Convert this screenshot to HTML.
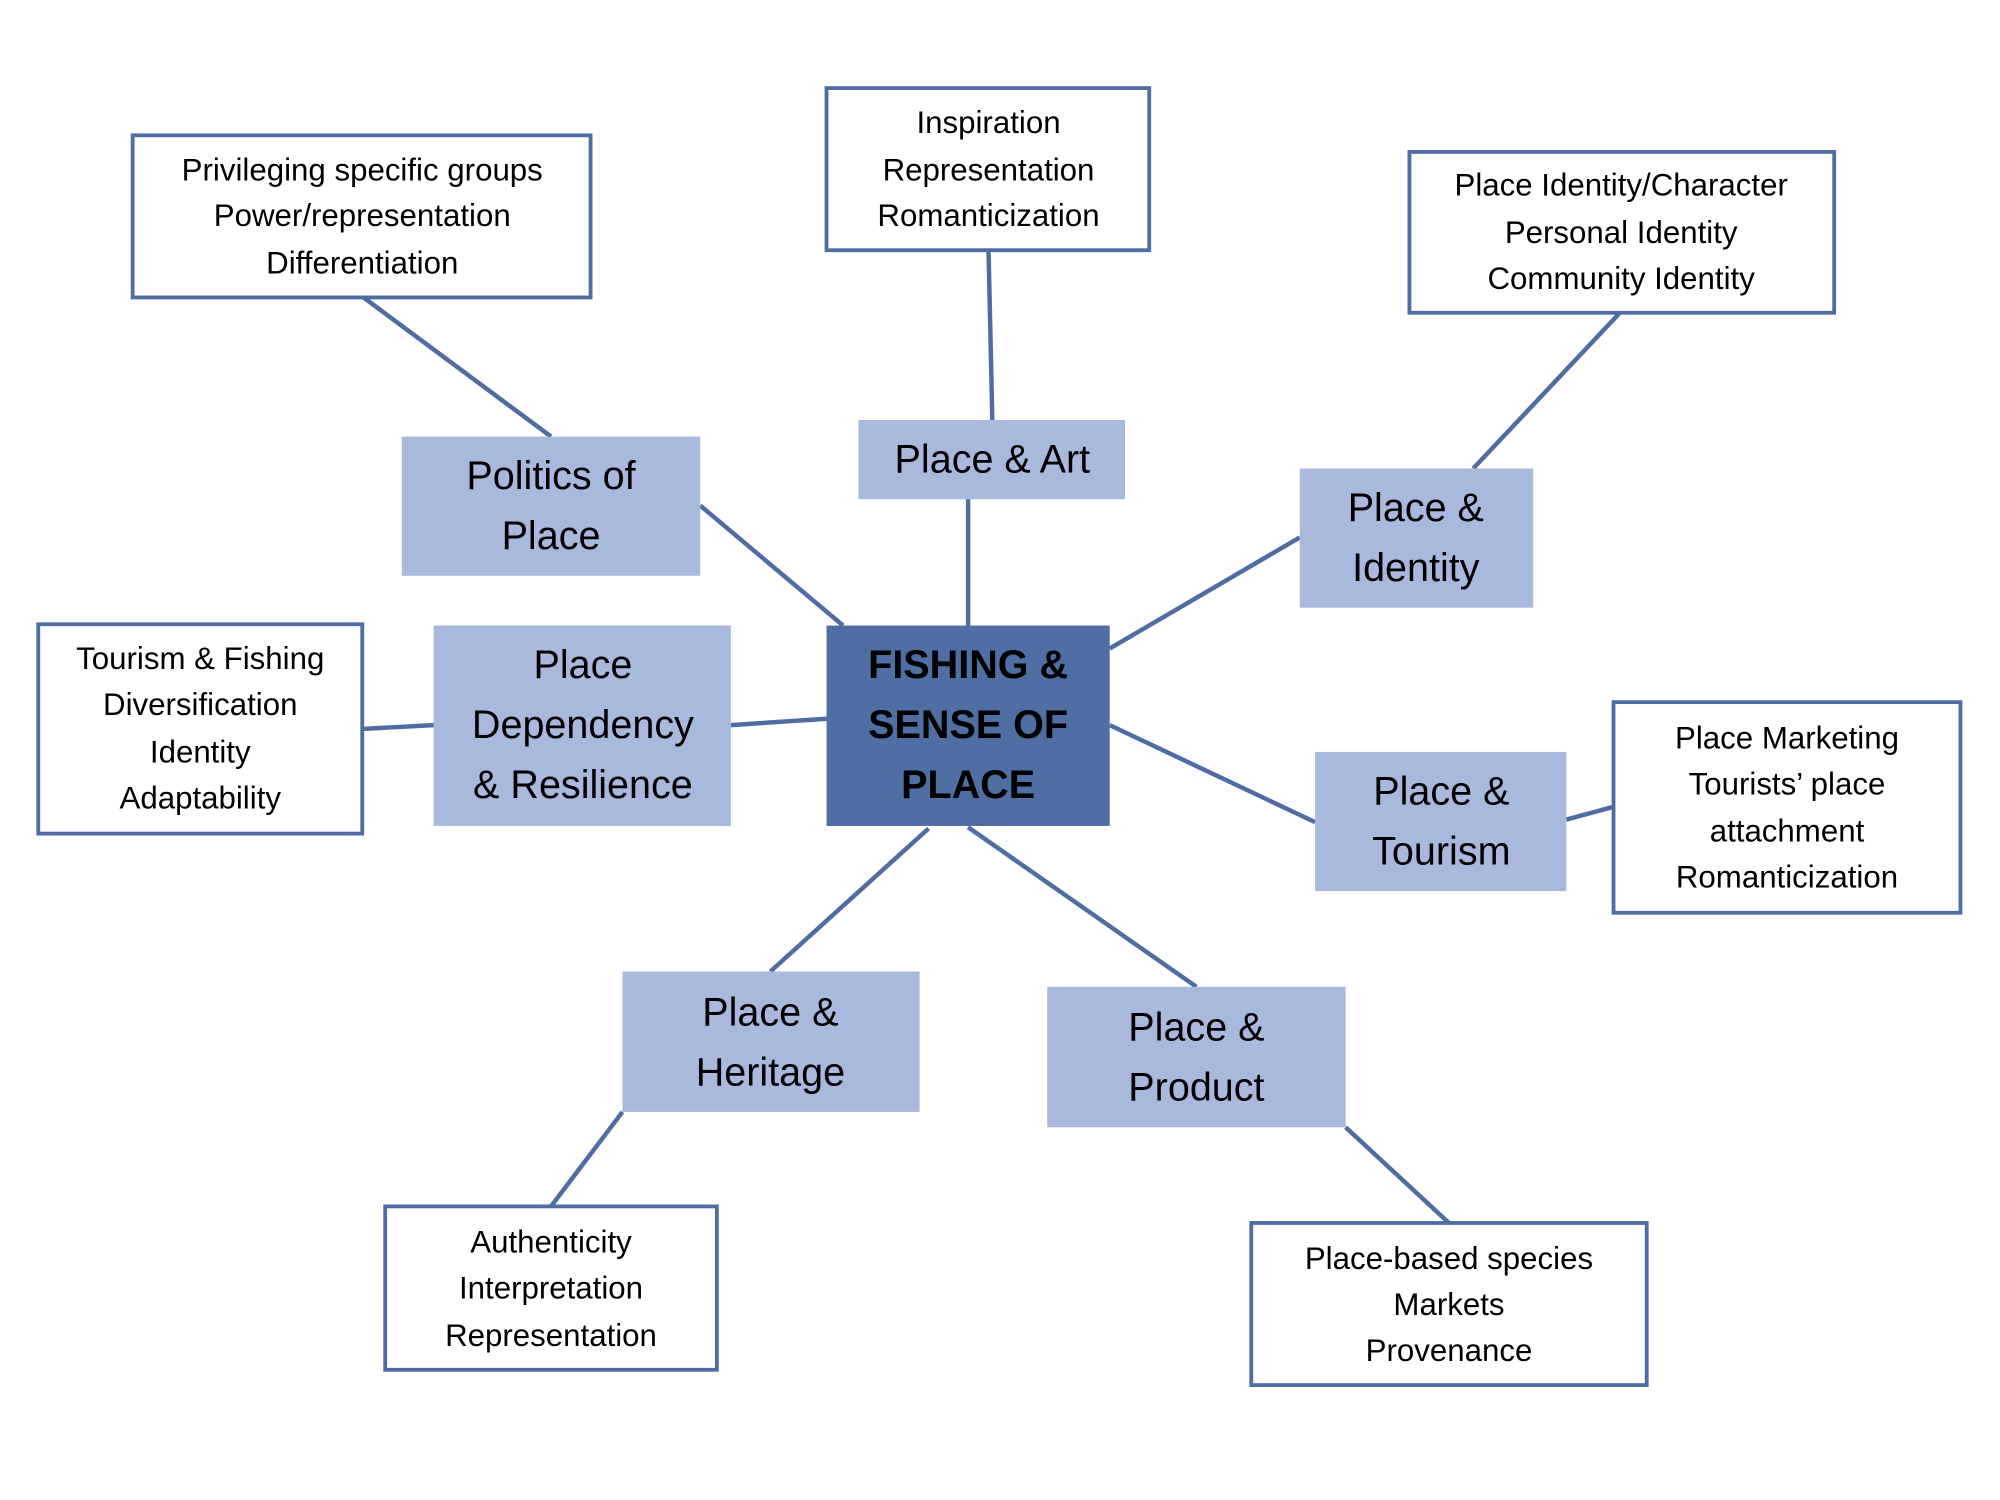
<!DOCTYPE html>
<html><head><meta charset="utf-8"><style>html,body{margin:0;padding:0;background:#fff}svg{display:block}</style></head>
<body>
<svg xmlns="http://www.w3.org/2000/svg" width="2000" height="1500" viewBox="0 0 1568 1175" preserveAspectRatio="none">
<rect width="1600" height="1200" fill="#fff"/>
<g stroke="#4f6da3" stroke-width="3.5" fill="none">
<line x1="285" y1="233" x2="432" y2="342"/>
<line x1="549" y1="396" x2="661" y2="490"/>
<line x1="775" y1="196" x2="778" y2="329"/>
<line x1="759" y1="391" x2="759" y2="490"/>
<line x1="1270" y1="245" x2="1155" y2="367"/>
<line x1="1019" y1="421" x2="870" y2="508"/>
<line x1="284" y1="571" x2="340" y2="568"/>
<line x1="573" y1="568" x2="648" y2="563"/>
<line x1="870" y1="568" x2="1031" y2="644"/>
<line x1="1228" y1="642" x2="1265" y2="632"/>
<line x1="728" y1="649" x2="604" y2="761"/>
<line x1="759" y1="648" x2="938" y2="773"/>
<line x1="488" y1="871" x2="432" y2="945"/>
<line x1="1055" y1="883" x2="1136" y2="958"/>
</g>
<g fill="#a9b9de">
<rect x="315" y="342" width="234" height="109"/>
<rect x="673" y="329" width="209" height="62"/>
<rect x="1019" y="367" width="183" height="109"/>
<rect x="340" y="490" width="233" height="157"/>
<rect x="1031" y="589" width="197" height="109"/>
<rect x="488" y="761" width="233" height="110"/>
<rect x="821" y="773" width="234" height="110"/>
</g>
<rect x="648" y="490" width="222" height="157" fill="#4e6ea4"/>
<g fill="#fff" stroke="#4f6da3" stroke-width="3">
<rect x="104" y="106" width="359" height="127"/>
<rect x="648" y="69" width="253" height="127"/>
<rect x="1105" y="119" width="333" height="126"/>
<rect x="30" y="489" width="254" height="164"/>
<rect x="1265" y="550" width="272" height="165"/>
<rect x="302" y="945" width="260" height="128"/>
<rect x="981" y="958" width="310" height="127"/>
</g>
<g font-family="Liberation Sans, sans-serif" text-anchor="middle" dominant-baseline="central" fill="#000">
<g font-size="31">
<text x="432" y="373">Politics of</text><text x="432" y="420">Place</text>
<text x="778" y="360">Place &amp; Art</text>
<text x="1110" y="398">Place &amp;</text><text x="1110" y="445">Identity</text>
<text x="457" y="521">Place</text><text x="457" y="568">Dependency</text><text x="457" y="615">&amp; Resilience</text>
<text x="1130" y="620">Place &amp;</text><text x="1130" y="667">Tourism</text>
<text x="604" y="793">Place &amp;</text><text x="604" y="840">Heritage</text>
<text x="938" y="805">Place &amp;</text><text x="938" y="852">Product</text>
</g>
<g font-size="31" font-weight="bold">
<text x="759" y="521">FISHING &amp;</text><text x="759" y="568">SENSE OF</text><text x="759" y="615">PLACE</text>
</g>
<g font-size="24.5">
<text x="284" y="133">Privileging specific groups</text><text x="284" y="169">Power/representation</text><text x="284" y="206">Differentiation</text>
<text x="775" y="96">Inspiration</text><text x="775" y="133">Representation</text><text x="775" y="169">Romanticization</text>
<text x="1271" y="145">Place Identity/Character</text><text x="1271" y="182">Personal Identity</text><text x="1271" y="218">Community Identity</text>
<text x="157" y="516">Tourism &amp; Fishing</text><text x="157" y="552">Diversification</text><text x="157" y="589">Identity</text><text x="157" y="625">Adaptability</text>
<text x="1401" y="578">Place Marketing</text><text x="1401" y="614">Tourists’ place</text><text x="1401" y="651">attachment</text><text x="1401" y="687">Romanticization</text>
<text x="432" y="973">Authenticity</text><text x="432" y="1009">Interpretation</text><text x="432" y="1046">Representation</text>
<text x="1136" y="986">Place-based species</text><text x="1136" y="1022">Markets</text><text x="1136" y="1058">Provenance</text>
</g>
</g>
</svg>
</body></html>
